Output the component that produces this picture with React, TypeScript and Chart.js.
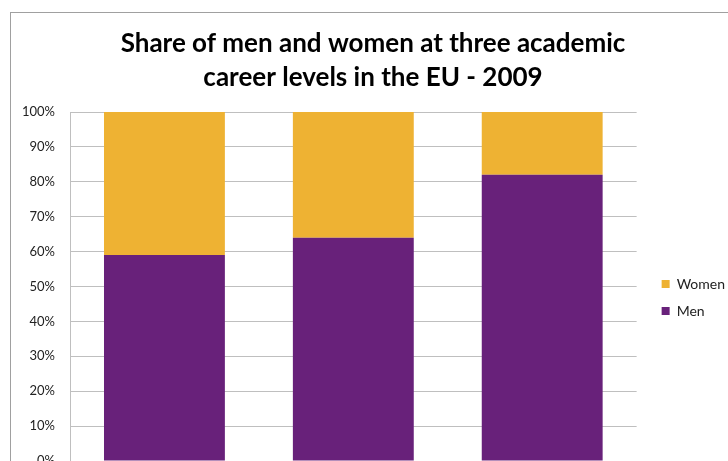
import React, { useEffect, useRef } from 'react';
import { Chart, registerables } from 'chart.js';

Chart.register(...registerables);

const titleLines = ['Share of men and women at three academic', 'career levels in the EU - 2009'];
const categories = ['Grade C', 'Grade B', 'Grade A'];
const seriesNames = ['Men', 'Women'];
const menShare = [59, 64, 82];
const womenShare = [41, 36, 18];
const yMin = 0;
const yMax = 100;
const yStep = 10;
const tickSuffix = '%';

const MEN_COLOR = '#68217A';
const WOMEN_COLOR = '#EEB233';

export default function App() {
  const ref = useRef<HTMLCanvasElement | null>(null);

  useEffect(() => {
    if (!ref.current) return;
    Chart.defaults.font.family = 'Lato';
    const chart = new Chart(ref.current, {
      type: 'bar',
      data: {
        labels: categories,
        datasets: [
          {
            label: seriesNames[0],
            data: menShare,
            backgroundColor: MEN_COLOR,
            borderWidth: 0,
            yAxisID: 'y',
            barPercentage: 0.64,
            categoryPercentage: 1,
          },
          {
            label: seriesNames[1],
            data: womenShare,
            backgroundColor: WOMEN_COLOR,
            borderWidth: 0,
            yAxisID: 'y',
            barPercentage: 0.64,
            categoryPercentage: 1,
          },
        ],
      },
      options: {
        animation: false,
        responsive: true,
        maintainAspectRatio: false,
        layout: { padding: { left: 0, right: 7, top: 0, bottom: 0 } },
        plugins: {
          title: {
            display: true,
            text: titleLines,
            color: '#000',
            font: { family: 'Lato', size: 26, weight: 'bold', lineHeight: 34 / 26 },
            padding: { top: 14, bottom: 17 },
          },
          legend: {
            position: 'right',
            fullSize: false,
            reverse: true,
            title: { display: true, text: '', font: { size: 10, lineHeight: 1.2 }, padding: 5 },
            labels: {
              boxWidth: 8,
              boxHeight: 8,
              padding: 13,
              color: '#222',
              font: { family: 'Lato', size: 14 },
            },
          },
          tooltip: { enabled: false },
        },
        scales: {
          x: {
            stacked: true,
            grid: { display: false },
            border: { display: false },
            ticks: { color: '#222', font: { size: 13 } },
            afterFit: (s: any) => {
              s.height = 52;
            },
          },
          y: {
            stacked: true,
            position: 'left',
            min: yMin,
            max: yMax,
            ticks: {
              stepSize: yStep,
              padding: 15,
              color: '#222',
              font: { size: 13 },
              callback: (v: any) => `${v}${tickSuffix}`,
            },
            grid: { color: '#bfbfbf', drawTicks: false, lineWidth: 1 },
            border: { display: true, color: '#bfbfbf' },
            afterFit: (s: any) => {
              s.width = 59;
            },
          },
          gap: {
            type: 'linear',
            position: 'right',
            display: true,
            grid: { display: false },
            border: { display: false },
            ticks: { display: false },
            afterFit: (s: any) => {
              s.width = 12;
            },
          },
        },
      },
    } as any);
    return () => chart.destroy();
  }, []);

  return (
    <div
      style={{
        position: 'fixed',
        left: 10,
        top: 12,
        right: 0,
        bottom: 0,
        overflow: 'hidden',
        borderTop: '1px solid #a0a0a0',
        borderLeft: '1px solid #a0a0a0',
        background: '#fff',
      }}
    >
      <div style={{ position: 'relative', width: 731, height: 500 }}>
        <canvas ref={ref} />
      </div>
    </div>
  );
}
